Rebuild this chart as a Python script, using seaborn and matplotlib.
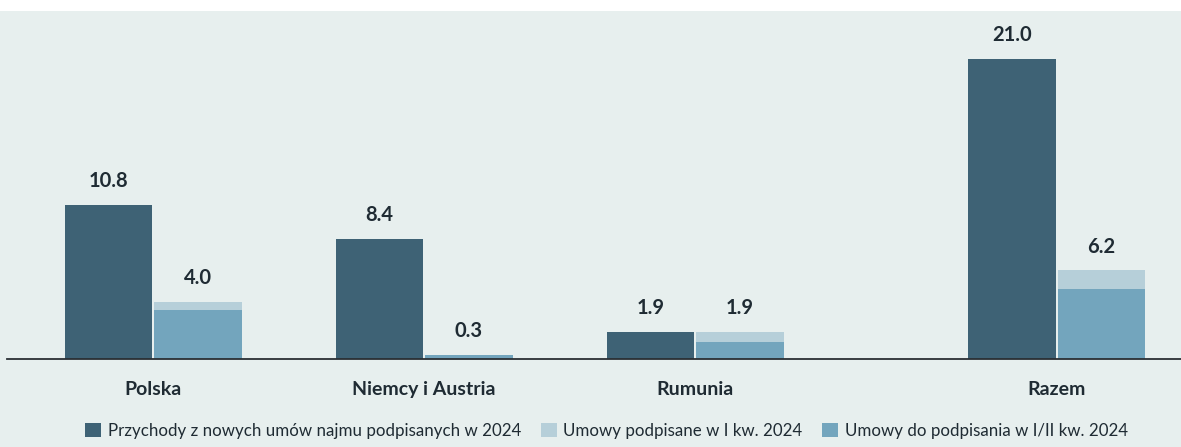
import pandas as pd
import seaborn as sns
import matplotlib.pyplot as plt
from matplotlib.patches import Patch, Rectangle

# data
groups = ['Polska', 'Niemcy i Austria', 'Rumunia', 'Razem']
group_pos = [0, 1, 2, 3.335]   # Razem stoi troche dalej
przychody = [10.8, 8.4, 1.9, 21.0]
podpisane_q1 = [0.6, 0.0, 0.7, 1.3]
do_podpisania = [3.4, 0.3, 1.2, 4.9]
legend_labels = ['Przychody z nowych umów najmu podpisanych w 2024',
                 'Umowy podpisane w I kw. 2024',
                 'Umowy do podpisania w I/II kw. 2024']

dark = '#3e6275'
light = '#b6cfd9'
medium = '#73a5bd'
bg = '#e7efee'
txt = '#1f2b33'

umowy_razem = [a + b for a, b in zip(podpisane_q1, do_podpisania)]

df_top = pd.DataFrame({'pos': group_pos * 2,
                       'value': przychody + umowy_razem,
                       'kind': ['p'] * 4 + ['u'] * 4})
df_bottom = pd.DataFrame({'pos': group_pos * 2,
                          'value': przychody + do_podpisania,
                          'kind': ['p'] * 4 + ['u'] * 4})

sns.set_style('white')
plt.rcParams['font.family'] = ['Lato', 'DejaVu Sans']

fig = plt.figure(figsize=(11.81, 4.47), dpi=100, facecolor='white')
fig.patches.append(Rectangle((0, 0), 1, 1 - 11 / 447, transform=fig.transFigure,
                             facecolor=bg, edgecolor='none', zorder=-10))
ax = fig.add_axes([7 / 1181, 88 / 447, 1 - 7 / 1181, 1 - 11 / 447 - 88 / 447])
ax.set_facecolor(bg)

# całość (jasny) pod spodem, potem do podpisania (średni) na wierzchu
sns.barplot(data=df_top, x='pos', y='value', hue='kind', hue_order=['p', 'u'],
            palette=[dark, light], native_scale=True, width=0.66, gap=0.02,
            saturation=1, errorbar=None, legend=False, linewidth=0, ax=ax)
sns.barplot(data=df_bottom, x='pos', y='value', hue='kind', hue_order=['p', 'u'],
            palette=[dark, medium], native_scale=True, width=0.66, gap=0.02,
            saturation=1, errorbar=None, legend=False, linewidth=0, ax=ax)

for c in ax.containers[:2]:
    ax.bar_label(c, fmt='%.1f', padding=10, fontsize=14.5, fontweight='bold', color=txt)

ax.set_xlim(-0.539, 3.793)
ax.set_ylim(0, 24.35)
ax.set_xticks(group_pos)
ax.set_xticklabels(groups, fontsize=14, fontweight='bold', color=txt)
ax.tick_params(axis='x', length=0, pad=16)
ax.set_yticks([])
ax.set_xlabel('')
ax.set_ylabel('')
for s in ['top', 'left', 'right']:
    ax.spines[s].set_visible(False)
ax.spines['bottom'].set_color('#2a2f33')
ax.spines['bottom'].set_linewidth(1.3)
ax.spines['bottom'].set_zorder(5)

handles = [Patch(facecolor=col, edgecolor='none') for col in [dark, light, medium]]
fig.legend(handles, legend_labels, loc='center', bbox_to_anchor=(0.5135, 0.036),
           ncol=3, frameon=False, fontsize=12.2, handlelength=0.95, handleheight=0.95,
           handletextpad=0.4, columnspacing=1.15, labelcolor=txt)

fig.savefig('out.png', dpi=100, facecolor='white')
